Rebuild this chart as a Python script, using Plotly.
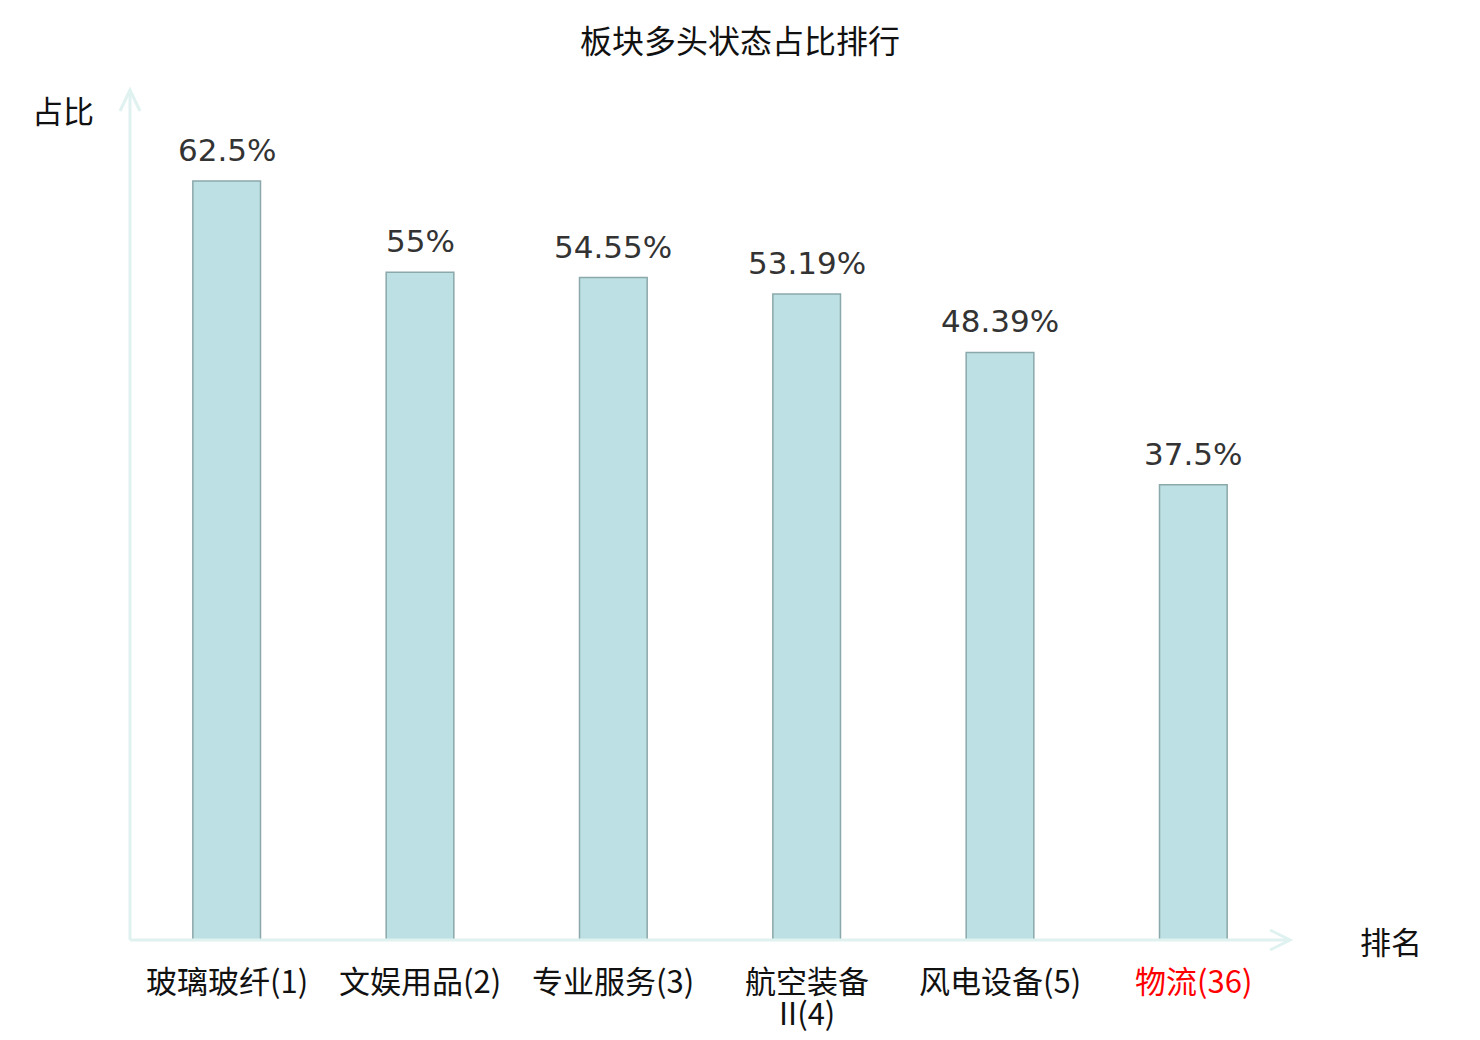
import plotly.graph_objects as go

# data
sectors = ["玻璃玻纤", "文娱用品", "专业服务", "航空装备\nII", "风电设备", "物流"]
ranks = [1, 2, 3, 4, 5, 36]
ratios = [62.5, 55, 54.55, 53.19, 48.39, 37.5]
value_labels = ["62.5%", "55%", "54.55%", "53.19%", "48.39%", "37.5%"]

x_idx = list(range(len(sectors)))
axis_color = "#dff2ef"
cjk = "Noto Sans CJK SC"

fig = go.Figure()
fig.add_trace(go.Bar(
    x=x_idx, y=ratios,
    marker=dict(color="#bce0e3", line=dict(color="#8ba8aa", width=1.5)),
    hoverinfo="skip",
))

# value labels above the bars
for xi, v, t in zip(x_idx, ratios, value_labels):
    fig.add_annotation(x=xi, y=v, text=t, showarrow=False, yanchor="bottom",
                       yshift=11, font=dict(family="DejaVu Sans", size=31, color="#333333"))

# category labels under the axis (drawn as annotations to get a tighter line spacing)
for xi, name, r in zip(x_idx, sectors, ranks):
    lines = name.split("\n")
    lines[-1] = f"{lines[-1]}({r})"
    color = "#ff0000" if r > 5 else "#111111"
    for i, txt in enumerate(lines):
        fig.add_annotation(x=xi, xref="x", y=0, yref="paper", text=txt, showarrow=False,
                           yanchor="middle", yshift=-39 - 32 * i, borderpad=0,
                           font=dict(family=cjk, size=31, color=color))

# page body has an 8px margin, so the figure is drawn 16px smaller
fig.update_layout(
    width=1464, height=1024,
    margin=dict(l=122, r=182, t=82, b=92, autoexpand=False),
    plot_bgcolor="white", paper_bgcolor="white",
    bargap=0.65,
    showlegend=False,
    title=dict(text="板块多头状态占比排行", x=0.5, xanchor="center", y=0.967, yanchor="middle",
               font=dict(family=cjk, size=32, color="#111111")),
    xaxis=dict(range=[-0.5, 5.5], showticklabels=False, showgrid=False, zeroline=False,
               showline=False, automargin=False),
    yaxis=dict(range=[0, 70], showgrid=False, zeroline=False, showline=False,
               showticklabels=False, automargin=False),
)

# axis lines with open arrow heads
line = dict(color=axis_color, width=3)
fig.add_shape(type="line", xref="paper", yref="paper", x0=0, y0=0, x1=1, y1=0, line=line)
fig.add_shape(type="line", xref="paper", yref="paper", x0=0, y0=0, x1=0, y1=1, line=line)
fig.add_shape(type="path", xref="paper", yref="paper",
              path="M -0.0086,0.9753 L 0,1.0 L 0.0086,0.9753", line=line)
fig.add_shape(type="path", xref="paper", yref="paper",
              path="M 0.9828,0.0118 L 1,0 L 0.9828,-0.0118", line=line)

# axis names
fig.add_annotation(xref="paper", yref="paper", x=-0.0578, y=0.9765, text="占比", showarrow=False,
                   xanchor="center", yanchor="middle",
                   font=dict(family=cjk, size=31, color="#111111"))
fig.add_annotation(xref="paper", yref="paper", x=1.0871, y=-0.001, text="排名", showarrow=False,
                   xanchor="center", yanchor="middle",
                   font=dict(family=cjk, size=31, color="#111111"))

fig.write_html("out.html")
